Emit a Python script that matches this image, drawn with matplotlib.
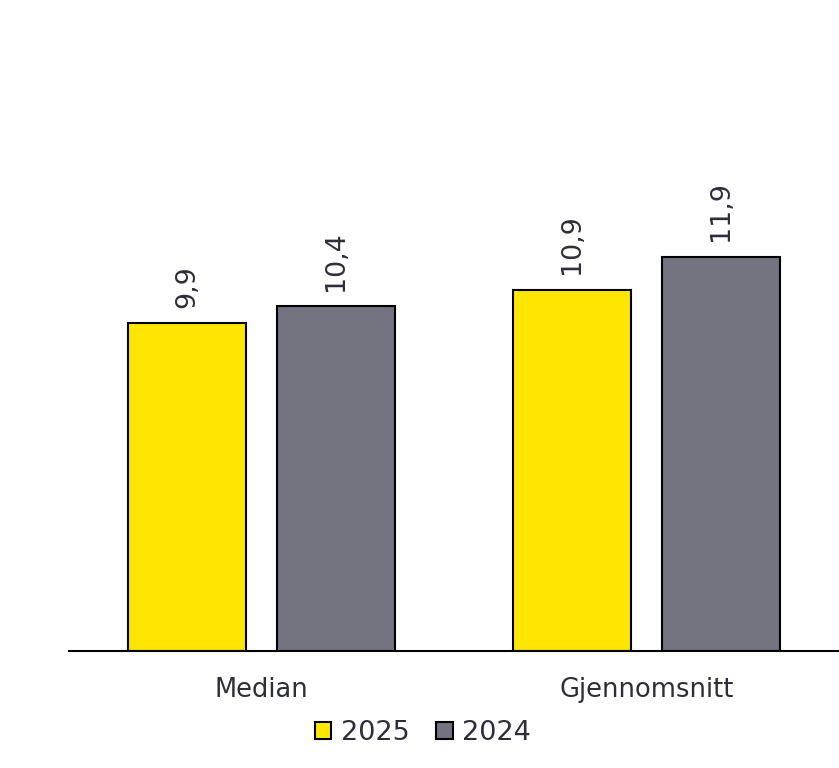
import numpy as np
import matplotlib.pyplot as plt
from matplotlib.patches import Patch

plt.rcParams['font.family'] = ['DejaVu Sans']

categories = ['Median', 'Gjennomsnitt']
years = ['2025', '2024']
vals_2025 = [9.9, 10.9]
vals_2024 = [10.4, 11.9]

col_2025 = '#FFE600'
col_2024 = '#747480'
txt_col = '#2E2E38'

fig = plt.figure(figsize=(8.39, 7.68), dpi=100)
ax = fig.add_axes([69/839, 1-651/768, 1-69/839, 651/768])

x = np.arange(len(categories))
w = 118/385
off = 74.5/385
ax.bar(x-off, vals_2025, w, color=col_2025, edgecolor='black', linewidth=1.5)
ax.bar(x+off, vals_2024, w, color=col_2024, edgecolor='black', linewidth=1.5)

# value labels, norwegian decimal comma
for xs, vs in [(x-off, vals_2025), (x+off, vals_2024)]:
    for xi, v in zip(xs, vs):
        ax.annotate(('%.1f' % v).replace('.', ','), (xi, v), xytext=(0, 11),
                    textcoords='offset points', rotation=90, ha='center', va='bottom',
                    fontsize=19.4, color=txt_col)

ax.set_xlim(-0.5, 1.5)
ax.set_ylim(0, 651/33.15)
ax.set_xticks(x)
ax.set_xticklabels(categories, fontsize=18.5, color=txt_col)
ax.tick_params(axis='x', length=0, pad=19)
ax.set_yticks([])
for s in ['top', 'right', 'left']:
    ax.spines[s].set_visible(False)
ax.spines['bottom'].set_linewidth(1.5)

handles = [Patch(facecolor=col_2025, edgecolor='black', linewidth=1.5),
           Patch(facecolor=col_2024, edgecolor='black', linewidth=1.5)]
fig.legend(handles, years, loc='center', bbox_to_anchor=(423/839, 1-733/768), ncol=2,
           frameon=False, fontsize=19.5, labelcolor=txt_col, handlelength=0.6,
           handleheight=0.6, handletextpad=0.35, columnspacing=1.0)

plt.savefig('out.png', dpi=100)
